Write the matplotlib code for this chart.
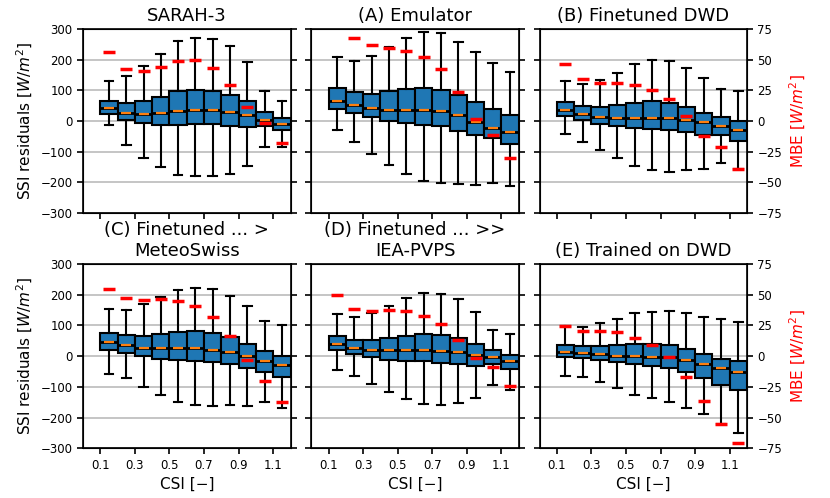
import numpy as np
import matplotlib
matplotlib.use("Agg")
import matplotlib.pyplot as plt

# CSI bin centres
csi = [0.15, 0.25, 0.35, 0.45, 0.55, 0.65, 0.75, 0.85, 0.95, 1.05, 1.15]

# SARAH-3
sarah_whislo = [-12, -77, -120, -151, -175, -179, -178, -173, -148, -86, -85]
sarah_q1 = [23, 3, -8, -14, -12, -9, -10, -17, -21, -17, -29]
sarah_med = [41, 26, 23, 26, 33, 37, 36, 30, 20, 3, -9]
sarah_q3 = [66, 60, 65, 78, 96, 101, 98, 86, 64, 28, 9]
sarah_whishi = [131, 145, 178, 217, 259, 269, 266, 243, 192, 97, 66]
sarah_mbe = [56, 42.5, 41, 44, 49, 49.5, 43, 29, 11, -1.6, -17.7]

# (A) Emulator
emu_whislo = [-29, -67, -109, -144, -173, -195, -201, -204, -209, -202, -213]
emu_q1 = [39, 25, 12, -1, -8, -13, -18, -32, -47, -55, -74]
emu_med = [66, 51, 41, 37, 37, 37, 33, 18, -3, -22, -37]
emu_q3 = [108, 93, 89, 97, 103, 108, 102, 83, 61, 40, 20]
emu_whishi = [209, 196, 211, 241, 271, 290, 285, 256, 224, 188, 161]
emu_mbe = [85, 67.5, 62, 59.6, 56.6, 52.3, 42, 23.7, 1.9, -11.2, -30.5]

# (B) Finetuned DWD
dwd_whislo = [-44, -67, -93, -122, -148, -161, -165, -160, -157, -137, -157]
dwd_q1 = [16, 3, -9, -17, -23, -25, -29, -36, -45, -46, -65]
dwd_med = [37, 24, 14, 10, 10, 10, 10, 4, -5, -15, -28]
dwd_q3 = [61, 50, 46, 51, 58, 64, 60, 46, 27, 13, 0]
dwd_whishi = [130, 120, 132, 157, 186, 199, 196, 171, 140, 104, 97]
dwd_mbe = [46, 34.3, 31.3, 30.8, 28.9, 25.6, 17.7, 3.8, -12.5, -21.2, -39]

# (C) Finetuned ... > MeteoSwiss
ms_whislo = [-58, -72, -100, -127, -148, -158, -161, -160, -162, -151, -170]
ms_q1 = [21, 11, -1, -8, -14, -15, -19, -27, -39, -51, -68]
ms_med = [45, 35, 28, 26, 26, 25, 21, 13, -1, -17, -29]
ms_q3 = [74, 68, 66, 71, 79, 81, 76, 62, 40, 16, -1]
ms_whishi = [152, 151, 170, 192, 216, 222, 220, 196, 163, 115, 103]
ms_mbe = [54.7, 47, 45.5, 46.5, 45, 40.5, 32, 16.6, -3, -20, -37.5]

# (D) Finetuned ... >> IEA-PVPS
iea_whislo = [-45, -64, -90, -117, -139, -155, -158, -152, -135, -94, -110]
iea_q1 = [18.5, 6.5, -4, -12, -17, -17, -22, -27, -32, -26, -41]
iea_med = [39, 28, 21, 18.5, 18.5, 18.5, 17, 13, 4, -2, -16]
iea_q3 = [65, 54, 52, 58, 66, 71, 67.5, 58, 39, 18.5, 3]
iea_whishi = [136, 127, 139, 164, 190, 206, 203, 185, 145, 86, 72]
iea_mbe = [49.6, 38.7, 36.7, 37.3, 36.5, 33, 26, 13.3, -1.9, -9, -24.5]

# (E) Trained on DWD
tr_whislo = [-65, -67, -85, -103, -126, -137, -151, -168, -190, -222, -252]
tr_q1 = [-4, -6.5, -14, -18.5, -26, -32, -38, -53, -70, -94, -110]
tr_med = [14, 11, 6.5, 2, 0, -2, -4, -12, -25, -40, -53]
tr_q3 = [37, 33, 33, 36, 38, 38, 35, 23, 8, -9, -17]
tr_whishi = [98, 96, 107, 121, 140, 145, 147, 139, 127, 122, 111]
tr_mbe = [24.5, 20.4, 20.4, 19.6, 14.7, 8.7, -0.5, -17.4, -36.7, -55.5, -70.5]

titles = ["SARAH-3", "(A) Emulator", "(B) Finetuned DWD",
          "(C) Finetuned ... >\nMeteoSwiss", "(D) Finetuned ... >>\nIEA-PVPS",
          "(E) Trained on DWD"]

panels = [
    (sarah_whislo, sarah_q1, sarah_med, sarah_q3, sarah_whishi, sarah_mbe),
    (emu_whislo, emu_q1, emu_med, emu_q3, emu_whishi, emu_mbe),
    (dwd_whislo, dwd_q1, dwd_med, dwd_q3, dwd_whishi, dwd_mbe),
    (ms_whislo, ms_q1, ms_med, ms_q3, ms_whishi, ms_mbe),
    (iea_whislo, iea_q1, iea_med, iea_q3, iea_whishi, iea_mbe),
    (tr_whislo, tr_q1, tr_med, tr_q3, tr_whishi, tr_mbe),
]

fig, axes = plt.subplots(2, 3, figsize=(8.3, 4.98), dpi=100)
fig.subplots_adjust(left=0.1, right=0.9, top=0.942, bottom=0.1, wspace=0.1, hspace=0.277)

for i, (ax, p) in enumerate(zip(axes.flat, panels)):
    lo, q1, med, q3, hi, mbe = p
    stats = [dict(whislo=lo[k], q1=q1[k], med=med[k], q3=q3[k], whishi=hi[k], fliers=[])
             for k in range(len(csi))]
    ax.bxp(stats, positions=csi, widths=0.1, patch_artist=True, showfliers=False,
           boxprops=dict(facecolor="C0", edgecolor="black", linewidth=1.5),
           whiskerprops=dict(color="black", linewidth=1.5),
           capprops=dict(color="black", linewidth=1.5),
           medianprops=dict(color="black", linewidth=2.0),
           capwidths=0.05, manage_ticks=False)
    ax.plot(csi, med, linestyle="none", marker="_", markersize=7,
            markeredgewidth=1.6, color="C1", zorder=5)
    ax.set_xlim(0.0, 1.2)
    ax.set_ylim(-300, 300)
    ax.set_yticks([-300, -200, -100, 0, 100, 200, 300])
    ax.set_xticks([0.1, 0.3, 0.5, 0.7, 0.9, 1.1])
    ax.grid(axis="y", color="#c0c0c0", linewidth=1.3)
    ax.set_axisbelow(True)
    ax.tick_params(labelsize=8.5, width=1.2, length=4)
    for s in ax.spines.values():
        s.set_linewidth(1.2)
    ax.set_title(titles[i], fontsize=13)

    ax2 = ax.twinx()
    ax2.set_ylim(-75, 75)
    ax2.set_yticks([-75, -50, -25, 0, 25, 50, 75])
    ax2.plot(csi, mbe, linestyle="none", marker="_", markersize=9,
             markeredgewidth=2.5, color="red")
    ax2.tick_params(labelsize=8.5, width=1.2, length=4)

    col = i % 3
    row = i // 3
    if col == 0:
        ax.set_ylabel("SSI residuals [$W/m^2$]", fontsize=11)
    else:
        ax.tick_params(labelleft=False)
    if col == 2:
        ax2.set_ylabel("MBE [$W/m^2$]", fontsize=11, color="red")
    else:
        ax2.tick_params(labelright=False)
    if row == 1:
        ax.set_xlabel("CSI [\u2212]", fontsize=11)
    else:
        ax.tick_params(labelbottom=False)

fig.savefig("out.png", dpi=100)
